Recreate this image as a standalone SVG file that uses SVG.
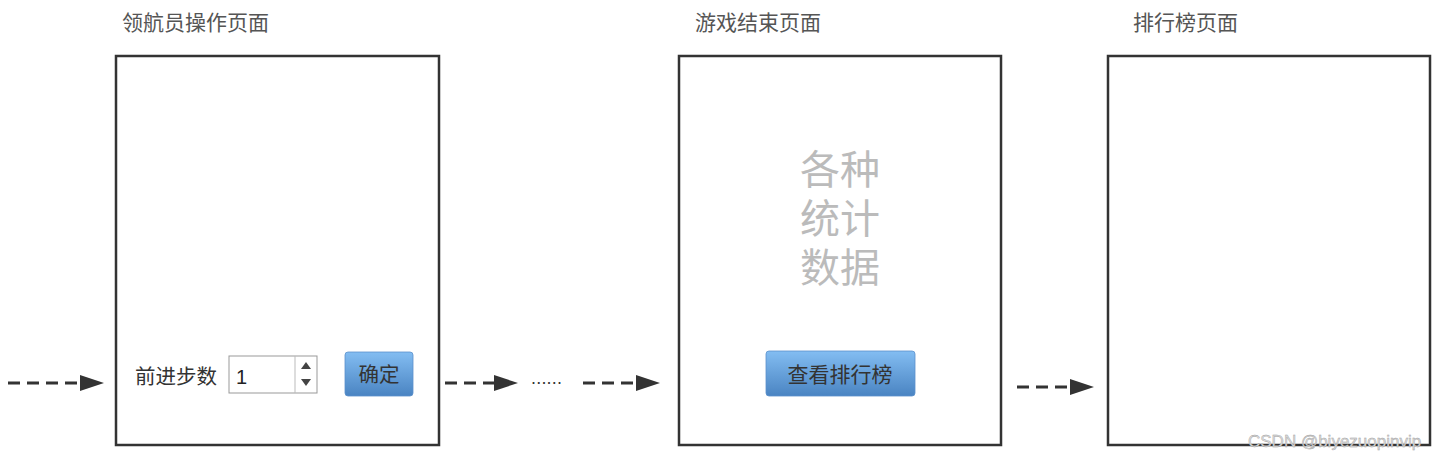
<svg xmlns="http://www.w3.org/2000/svg" width="1444" height="460" viewBox="0 0 1444 460">
<defs>
<style>
.t{font-family:"Liberation Sans","Noto Sans CJK SC",sans-serif}
.frame{fill:#fff;stroke:#333;stroke-width:2.5}
.title{font-size:21px;fill:#555}
.conn{stroke:#333;stroke-width:3;stroke-dasharray:12,7;fill:none}
.btn{fill:url(#bg);stroke:#5a90cc;stroke-width:0.8}
.big{font-size:40px;fill:#bbb;text-anchor:middle}
.head{fill:#333}
</style>
<linearGradient id="bg" x1="0" y1="0" x2="0" y2="1">
<stop offset="0" stop-color="#83bdf2"/>
<stop offset="1" stop-color="#4a84c2"/>
</linearGradient>
</defs>
<rect width="1444" height="460" fill="#fff"/>

<g id="node-nav">
<text class="t title" x="122" y="30">领航员操作页面</text>
<rect class="frame" x="116" y="56" width="323" height="389"/>
<text class="t" x="135" y="384" font-size="20.5" fill="#333">前进步数</text>
<rect x="229" y="356" width="88" height="37" fill="#fff" stroke="#999" stroke-width="1"/>
<line x1="295" y1="356" x2="295" y2="393" stroke="#bbb" stroke-width="1"/>
<path d="M301,369 L311,369 L306,362 z" fill="#444"/>
<path d="M301,379 L311,379 L306,386 z" fill="#444"/>
<text class="t" x="236" y="384" font-size="20" fill="#222">1</text>
<rect class="btn" x="345" y="352" width="68" height="44" rx="3"/>
<text class="t" x="379" y="382" font-size="20.5" fill="#333" text-anchor="middle">确定</text>
</g>

<g id="node-end">
<text class="t title" x="695" y="30">游戏结束页面</text>
<rect class="frame" x="679" y="56" width="322" height="389"/>
<text class="t big" x="840" y="184">各种</text>
<text class="t big" x="840" y="233">统计</text>
<text class="t big" x="840" y="282">数据</text>
<rect class="btn" x="766" y="351" width="149" height="45" rx="3"/>
<text class="t" x="840" y="382" font-size="21" fill="#333" text-anchor="middle">查看排行榜</text>
</g>

<g id="node-rank">
<text class="t title" x="1133" y="30">排行榜页面</text>
<rect class="frame" x="1108" y="56" width="322" height="389"/>
</g>

<g id="connectors">
<line class="conn" x1="8" y1="383" x2="82" y2="383"/>
<path class="head" d="M80,375 L104,383 L80,391 z"/>
<line class="conn" x1="445" y1="383" x2="496" y2="383"/>
<path class="head" d="M494,375 L518,383 L494,391 z"/>
<text class="t" x="531" y="384" font-size="18" fill="#333" letter-spacing="0.2">......</text>
<line class="conn" x1="583" y1="383" x2="638" y2="383"/>
<path class="head" d="M636,375 L660,383 L636,391 z"/>
<line class="conn" x1="1017" y1="387" x2="1072" y2="387"/>
<path class="head" d="M1070,379 L1094,387 L1070,395 z"/>
</g>

<text class="t" x="1248" y="447" font-size="17" fill="#ddd" stroke="#999" stroke-width="0.4">CSDN @biyezuopinvip</text>
</svg>
